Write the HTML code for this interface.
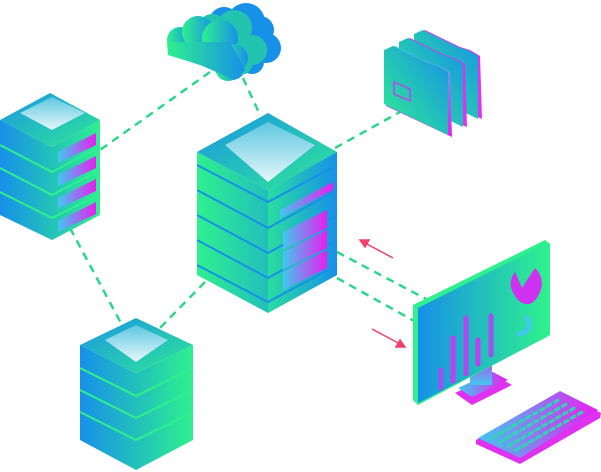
<!DOCTYPE html>
<html><head><meta charset="utf-8"><style>html,body{margin:0;padding:0;background:#fff}svg{display:block}</style></head>
<body>
<svg width="601" height="472" viewBox="0 0 601 472" xmlns="http://www.w3.org/2000/svg">
<defs>
<linearGradient id="gb" x1="0" y1="0" x2="1" y2="0"><stop offset="0" stop-color="#2ef08e"/><stop offset="1" stop-color="#1790e8"/></linearGradient>
<linearGradient id="bg" x1="0" y1="0" x2="1" y2="0"><stop offset="0" stop-color="#1790e8"/><stop offset="1" stop-color="#2ef08e"/></linearGradient>
<linearGradient id="fd" x1="0" y1="1" x2="1" y2="0"><stop offset="0" stop-color="#2ef08e"/><stop offset="1" stop-color="#1790e8"/></linearGradient>
<linearGradient id="top" x1="0" y1="0" x2="1" y2="1"><stop offset="0" stop-color="#1a94e6"/><stop offset="1" stop-color="#2ee894"/></linearGradient>
<linearGradient id="lt" x1="0" y1="0" x2="0" y2="1"><stop offset="0" stop-color="#5fc7e0"/><stop offset="1" stop-color="#e6f7fb"/></linearGradient>
<linearGradient id="mg" x1="0" y1="0" x2="1" y2="0"><stop offset="0" stop-color="#40c8f0"/><stop offset="1" stop-color="#e81ef0"/></linearGradient>
<linearGradient id="mg2" x1="0" y1="0" x2="0" y2="1"><stop offset="0" stop-color="#e81ef0"/><stop offset="1" stop-color="#40c8f0"/></linearGradient>
<linearGradient id="ed" x1="0" y1="0" x2="0" y2="1"><stop offset="0" stop-color="#40c8f0"/><stop offset="1" stop-color="#e81ef0"/></linearGradient>
</defs>
<g stroke="#2ed68a" stroke-width="2.5" stroke-dasharray="8,6" fill="none">
<line x1="210" y1="72" x2="100" y2="150"/>
<line x1="243" y1="78" x2="260" y2="115"/>
<line x1="335" y1="148" x2="400" y2="112"/>
<line x1="70" y1="228" x2="122" y2="325"/>
<line x1="205" y1="282" x2="158" y2="330"/>
<line x1="337" y1="252" x2="428" y2="300"/>
<line x1="337" y1="278" x2="416" y2="322"/>
</g>
<g stroke="#f0406a" stroke-width="1.5" fill="#f0406a">
<line x1="393" y1="258" x2="365" y2="243"/><polygon points="360,240 369,240 365,247"/>
<line x1="372" y1="329" x2="400" y2="344"/><polygon points="405,347 396,347 400,340"/>
</g>
<!-- cloud -->
<g fill="#1790e8">
<circle cx="266" cy="48" r="15"/><circle cx="246" cy="22" r="19"/><circle cx="224" cy="22" r="15"/><circle cx="260" cy="30" r="14"/><circle cx="252" cy="62" r="12"/><circle cx="232" cy="66" r="14"/>
</g>
<g fill="#22c4b0">
<circle cx="252" cy="50" r="15"/><circle cx="234" cy="28" r="18"/><circle cx="212" cy="28" r="14"/><circle cx="240" cy="62" r="13"/>
</g>
<g fill="url(#gb)">
<circle cx="180" cy="40" r="13"/><circle cx="198" cy="32" r="16"/><circle cx="220" cy="38" r="18"/><circle cx="234" cy="58" r="14"/><circle cx="228" cy="68" r="13"/>
<polygon points="167,42 230,42 245,70 235,80 200,65 168,55"/>
</g>
<!-- folders -->
<g transform="translate(30,-16)">
<polygon points="386,50 395,46 430,63 440,66 450,72 452,135 386,106" fill="#e030f0"/>
<polygon points="384,50 393,46 428,63 438,66 448,72 448,135 384,104" fill="url(#fd)"/>
</g>
<g transform="translate(15,-8)">
<polygon points="386,50 395,46 430,63 440,66 450,72 452,135 386,106" fill="#e030f0"/>
<polygon points="384,50 393,46 428,63 438,66 448,72 448,135 384,104" fill="url(#fd)"/>
</g>
<polygon points="386,50 395,46 430,63 440,66 450,72 452,137 386,106" fill="url(#ed)"/>
<polygon points="384,50 393,46 428,63 438,66 448,72 448,135 384,104" fill="url(#fd)"/>
<polygon points="394,82 410,89 410,101 394,94" fill="none" stroke="#c040f0" stroke-width="1.5"/>
<!-- left server -->
<polygon points="0,120 0,215 52,240 100,215 100,120 52,147" fill="url(#bg)"/>
<polygon points="0,120 50,93 100,120 52,147" fill="url(#top)"/>
<polygon points="20,113 52,97 85,113 52,130" fill="url(#lt)"/>
<g stroke="#2ef08e" stroke-width="2"><polyline points="0,145 52,172 100,147" fill="none"/><polyline points="0,168 52,195 100,170" fill="none"/><polyline points="0,192 52,218 100,194" fill="none"/></g>
<g fill="url(#mg)"><polygon points="58,152 96,133 96,145 58,163"/><polygon points="58,175 96,156 96,168 58,186"/><polygon points="58,198 96,179 96,191 58,209"/><polygon points="58,221 96,202 96,214 58,232"/></g>
<!-- main server -->
<polygon points="197,152 197,275 268,313 337,275 337,152 268,190" fill="url(#gb)"/>
<polygon points="268,190 337,152 337,275 268,313" fill="url(#gb)" opacity="0.6"/>
<polygon points="197,152 268,113 337,152 268,190" fill="url(#top)"/>
<polygon points="225,145 268,122 315,145 268,182" fill="url(#lt)"/>
<g stroke="#1790e8" stroke-width="2" fill="none"><polyline points="197,165 268,202 337,165"/><polyline points="197,190 268,228 337,190"/><polyline points="197,215 268,253 337,215"/><polyline points="197,240 268,278 337,240"/><polyline points="197,265 268,302 337,265"/></g>
<g fill="url(#mg)"><polygon points="280,210 333,182 333,190 280,218"/><polygon points="283,232 327,210 327,228 283,250"/><polygon points="283,252 327,230 327,248 283,270"/><polygon points="283,272 327,250 327,268 283,290"/></g>
<!-- bottom-left server -->
<polygon points="80,345 80,440 136,470 193,440 193,345 136,373" fill="url(#bg)"/>
<polygon points="80,345 136,318 193,345 136,373" fill="url(#top)"/>
<polygon points="105,340 136,325 168,340 136,362" fill="url(#lt)"/>
<g stroke="#2ef08e" stroke-width="2" fill="none"><polyline points="80,368 136,396 193,368"/><polyline points="80,390 136,418 193,390"/><polyline points="80,412 136,440 193,412"/></g>
<!-- monitor -->
<polygon points="455,393 493,375 512,385 472,405" fill="#e030f0"/>
<polygon points="458,388 493,372 508,380 472,397" fill="url(#mg)"/>
<rect x="470" y="350" width="22" height="35" fill="url(#mg2)"/>
<polygon points="413,305 545,240 550,244 550,335 418,405 413,400" fill="#2ef08e"/>
<polygon points="418,308 547,243 547,337 418,403" fill="url(#bg)"/>
<g stroke-width="5" stroke-linecap="round"><line x1="441" y1="388" x2="441" y2="370" stroke="#a050f0"/><line x1="453" y1="381" x2="453" y2="338" stroke="#c040f0"/><line x1="466" y1="374" x2="466" y2="318" stroke="#b048f0"/><line x1="478" y1="364" x2="478" y2="340" stroke="#c040f0"/><line x1="491" y1="355" x2="491" y2="316" stroke="#a050f0"/></g>
<path d="M518,300 Q505,285 515,272 L522,288 L535,268 Q547,280 538,296 Q530,310 518,300Z" fill="#d030f0"/>
<path d="M527,318 Q533,330 520,334" stroke="#40c8f0" stroke-width="5" fill="none" stroke-linecap="round"/>
<!-- keyboard -->
<polygon points="476,440 560,392 601,413 600,418 520,464 476,444" fill="#e030f0"/>
<polygon points="478,438 560,391 598,410 520,458" fill="url(#mg)"/>
<g stroke="#2ed6b0" stroke-width="3" stroke-linecap="round" stroke-dasharray="4,4">
<line x1="492" y1="438" x2="560" y2="399"/><line x1="500" y1="442" x2="568" y2="403"/><line x1="508" y1="446" x2="576" y2="407"/><line x1="516" y1="450" x2="584" y2="411"/>
</g>
</svg>
</body></html>
